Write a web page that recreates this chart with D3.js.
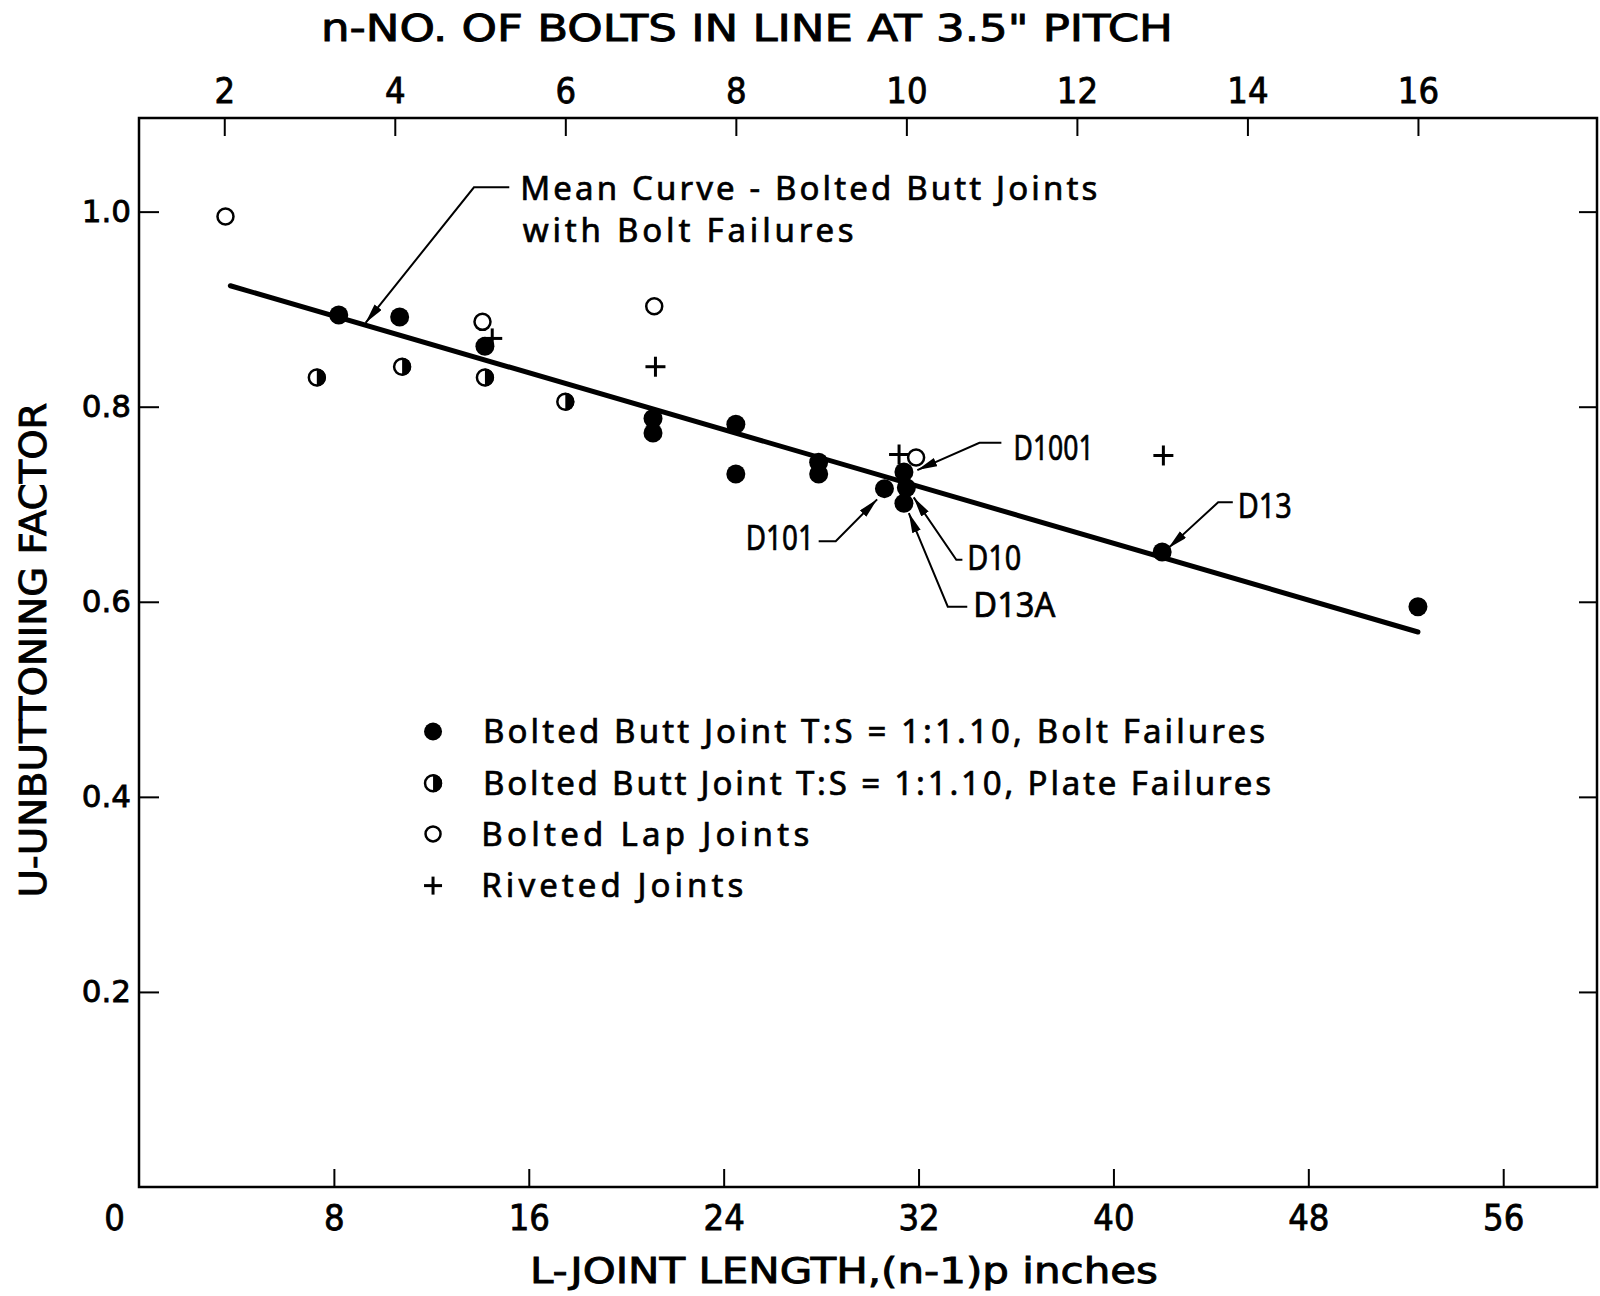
<!DOCTYPE html>
<html lang="en">
<head>
    <meta charset="UTF-8">
    <title>Unbuttoning factor vs joint length</title>
    <script src="https://d3js.org/d3.v7.min.js"></script>
    <style>
        body { margin: 0; background-color: #fff; }
        #chart svg { display: block; }
        .frame { fill: none; stroke: #000; stroke-width: 2.5px; }
        .axis .domain { display: none; }
        .axis line { stroke: #000; stroke-width: 2px; }
        .axis text { fill: #000; stroke: #000; stroke-width: 0.8px; }
        .x-axis text, .n-axis text { font-family: "Liberation Sans Narrow", "DejaVu Sans Condensed", "Liberation Sans", sans-serif; font-size: 36px; }
        .y-axis text { font-family: "DejaVu Sans", sans-serif; font-size: 31px; }
        .axis-title { font-family: "Liberation Sans Narrow", "DejaVu Sans Condensed", "Liberation Sans", sans-serif; font-size: 37px; fill: #000; stroke: #000; stroke-width: 0.8px; }
        .note { font-family: "Noto Sans", "DejaVu Sans", sans-serif; font-size: 33px; fill: #000; stroke: #000; stroke-width: 0.7px; }
        .mean-line { fill: none; stroke: #000; stroke-width: 5px; stroke-linecap: round; }
        .leader { fill: none; stroke: #000; stroke-width: 2px; }
        .plus { stroke: #000; stroke-width: 3px; }
    </style>
</head>
<body>
<div id="chart"></div>

<script>
    // --- Data (L in inches, U unbuttoning factor) ---
    const boltFailures = [
        [8.2, 0.894], [10.7, 0.892], [14.2, 0.862], [21.1, 0.788], [21.1, 0.773],
        [24.5, 0.782], [24.5, 0.731], [27.9, 0.743], [27.9, 0.731], [30.6, 0.716],
        [31.4, 0.733], [31.5, 0.717], [31.4, 0.701], [42.0, 0.651], [52.5, 0.595]
    ];
    const plateFailures = [[7.3, 0.830], [10.8, 0.841], [14.2, 0.830], [17.5, 0.805]];
    const lapJoints = [[3.55, 0.995], [14.1, 0.887], [21.15, 0.903], [31.9, 0.748]];
    const rivetedJoints = [[14.5, 0.870], [21.2, 0.841], [31.2, 0.751], [42.05, 0.750]];
    const meanCurve = [[3.75, 0.924], [52.5, 0.569]];

    const xTicks = [8, 16, 24, 32, 40, 48, 56];
    const yTicks = [0.2, 0.4, 0.6, 0.8, 1.0];
    const boltCounts = [2, 4, 6, 8, 10, 12, 14, 16];
    const PITCH = 3.5;

    const legendLabels = [
        "Bolted Butt Joint T:S = 1:1.10, Bolt Failures",
        "Bolted Butt Joint T:S = 1:1.10, Plate Failures",
        "Bolted Lap Joints",
        "Riveted Joints"
    ];

    // leader callouts: text, arrow tip, elbow, horizontal end (data units)
    const callouts = [
        { text: "D1001", tip: [31.95, 0.735], elbow: [34.5, 0.763], end: [35.4, 0.763], at: [35.9, 0.745], anchor: "start", len: 80 },
        { text: "D101", tip: [30.3, 0.705], elbow: [28.6, 0.662], end: [27.9, 0.662], at: [27.7, 0.653], anchor: "end", len: 68 },
        { text: "D10", tip: [31.8, 0.707], elbow: [33.55, 0.643], end: [33.8, 0.643], at: [34.0, 0.633], anchor: "start", len: 54 },
        { text: "D13A", tip: [31.6, 0.691], elbow: [33.2, 0.595], end: [34.0, 0.595], at: [34.25, 0.584], anchor: "start", len: 82 },
        { text: "D13", tip: [42.25, 0.655], elbow: [44.3, 0.702], end: [44.9, 0.702], at: [45.1, 0.686], anchor: "start", len: 54 }
    ];

    // --- Chart setup ---
    const W = 1600, H = 1296;
    const svg = d3.select("#chart").append("svg").attr("width", W).attr("height", H);
    svg.append("rect").attr("width", W).attr("height", H).attr("fill", "#fff");

    const x = d3.scaleLinear().domain([0, 59.85]).range([139, 1597]);
    const y = d3.scaleLinear().domain([0, 1.096]).range([1187, 118]);
    const [x0, x1] = x.range(), [y0, y1] = y.range();

    svg.append("defs").append("marker")
        .attr("id", "arrow").attr("markerUnits", "userSpaceOnUse")
        .attr("markerWidth", 22).attr("markerHeight", 10)
        .attr("refX", 20).attr("refY", 4.5).attr("orient", "auto")
      .append("path").attr("d", "M0,0 L20,4.5 L0,9 Z").attr("fill", "#000");

    // Axes with inward ticks
    svg.append("g").attr("class", "axis x-axis").attr("transform", `translate(0,${y0})`)
        .call(d3.axisBottom(x).tickValues([0, ...xTicks]).tickSize(-18).tickPadding(17).tickFormat(d3.format("d")))
        .call(g => g.selectAll(".tick").filter(d => d === 0).select("line").remove())
        .call(g => g.selectAll(".tick").filter(d => d === 0).select("text").attr("x", -25));

    svg.append("g").attr("class", "axis n-axis").attr("transform", `translate(0,${y1})`)
        .call(d3.axisTop(x).tickValues(boltCounts.map(n => (n - 1) * PITCH)).tickSize(-18).tickPadding(15)
            .tickFormat((d, i) => boltCounts[i]));

    svg.append("g").attr("class", "axis y-axis").attr("transform", `translate(${x0},0)`)
        .call(d3.axisLeft(y).tickValues(yTicks).tickSize(-20).tickPadding(8).tickFormat(d3.format(".1f")));

    svg.append("g").attr("class", "axis y-axis-right").attr("transform", `translate(${x1},0)`)
        .call(d3.axisRight(y).tickValues(yTicks).tickSize(-18).tickFormat(""));

    svg.append("rect").attr("class", "frame")
        .attr("x", x0).attr("y", y1).attr("width", x1 - x0).attr("height", y0 - y1);

    // Axis titles
    svg.append("text").attr("class", "axis-title").attr("x", 747).attr("y", 41)
        .attr("text-anchor", "middle").attr("textLength", 852).attr("lengthAdjust", "spacingAndGlyphs")
        .text("n-NO. OF BOLTS  IN LINE AT  3.5\"  PITCH");
    svg.append("text").attr("class", "axis-title").attr("x", 844).attr("y", 1283)
        .attr("text-anchor", "middle").attr("textLength", 628).attr("lengthAdjust", "spacingAndGlyphs")
        .style("font-size", "35px")
        .text("L-JOINT  LENGTH,(n-1)p  inches");
    svg.append("text").attr("class", "axis-title")
        .attr("transform", "translate(46,650) rotate(-90)")
        .attr("text-anchor", "middle").attr("textLength", 495).attr("lengthAdjust", "spacingAndGlyphs")
        .text("U-UNBUTTONING FACTOR");

    // Mean curve
    svg.append("path").attr("class", "mean-line").datum(meanCurve)
        .attr("d", d3.line().x(d => x(d[0])).y(d => y(d[1])));

    // Markers
    const halfArc = d3.arc().innerRadius(0).outerRadius(9).startAngle(0).endAngle(Math.PI);
    function drawFilled(g, r) { g.append("circle").attr("r", r).attr("fill", "#000"); }
    function drawHalf(g) {
        g.append("circle").attr("r", 8).attr("fill", "#fff").attr("stroke", "#000").attr("stroke-width", 2.5);
        g.append("path").attr("d", halfArc).attr("fill", "#000");
    }
    function drawOpen(g, r) { g.append("circle").attr("r", r).attr("fill", "none").attr("stroke", "#000").attr("stroke-width", 2.5); }
    function drawPlus(g, s) {
        g.append("line").attr("class", "plus").attr("x1", -s).attr("x2", s);
        g.append("line").attr("class", "plus").attr("y1", -s).attr("y2", s);
    }
    function place(data, draw) {
        svg.append("g").selectAll("g").data(data).join("g")
            .attr("transform", d => `translate(${x(d[0])},${y(d[1])})`)
            .each(function() { draw(d3.select(this)); });
    }
    place(plateFailures, drawHalf);
    place(lapJoints, g => drawOpen(g, 8));
    place(boltFailures, g => drawFilled(g, 9.5));
    place(rivetedJoints, g => drawPlus(g, 10));

    // Mean curve label
    const line = d3.line().x(d => x(d[0])).y(d => y(d[1]));
    svg.append("path").attr("class", "leader").attr("marker-end", "url(#arrow)")
        .attr("d", line([[15.2, 1.025], [13.75, 1.025], [9.3, 0.886]]));
    svg.append("text").attr("class", "note").attr("x", x(15.65)).attr("y", y(1.012))
        .attr("textLength", 577).attr("lengthAdjust", "spacing")
        .text("Mean  Curve - Bolted  Butt  Joints");
    svg.append("text").attr("class", "note").attr("x", x(15.75)).attr("y", y(0.969))
        .attr("textLength", 331).attr("lengthAdjust", "spacing")
        .text("with  Bolt  Failures");

    // Specimen callouts
    callouts.forEach(c => {
        svg.append("path").attr("class", "leader").attr("marker-end", "url(#arrow)")
            .attr("d", line([c.end, c.elbow, c.tip]));
        svg.append("text").attr("class", "note").style("font-size", "35px")
            .attr("x", x(c.at[0])).attr("y", y(c.at[1])).attr("text-anchor", c.anchor)
            .attr("textLength", c.len).attr("lengthAdjust", "spacingAndGlyphs")
            .text(c.text);
    });

    // Legend
    const legendRows = [0.467, 0.414, 0.362, 0.309];
    const legendWidths = [782, 788, 328, 262];
    const legendDraw = [g => drawFilled(g, 9), drawHalf, g => drawOpen(g, 7.5), g => drawPlus(g, 9)];
    legendLabels.forEach((label, i) => {
        const g = svg.append("g").attr("transform", `translate(${x(12.07)},${y(legendRows[i])})`);
        legendDraw[i](g);
        svg.append("text").attr("class", "note")
            .attr("x", x(i < 2 ? 14.12 : 14.05)).attr("y", y(legendRows[i])).attr("dy", "0.36em")
            .attr("textLength", legendWidths[i]).attr("lengthAdjust", "spacing")
            .text(label);
    });
</script>
</body>
</html>
